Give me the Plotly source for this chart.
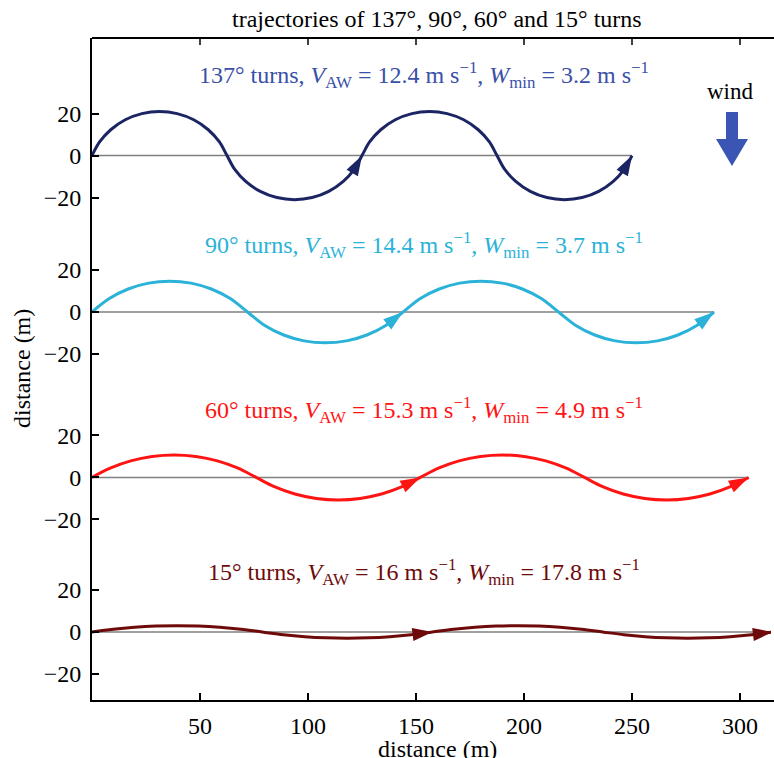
import plotly.graph_objects as go

# ---------------- data ----------------
x_137 = [0, 3.6, 8.67, 15.41, 23.09, 31.25, 39.41, 47.09, 53.83, 58.9, 62.5,
         66.1, 71.17, 77.91, 85.59, 93.75, 101.91, 109.59, 116.33, 121.4, 125.0,
         128.6, 133.67, 140.41, 148.09, 156.25, 164.41, 172.09, 178.83, 183.9, 187.5,
         191.1, 196.17, 202.91, 210.59, 218.75, 226.91, 234.59, 241.33, 246.4, 250.0]
y_137 = [0, 6.6, 12.3, 17.05, 20.0, 21.0, 20.0, 17.05, 12.3, 6.6, 0,
         -6.6, -12.3, -17.05, -20.0, -21.0, -20.0, -17.05, -12.3, -6.6, 0,
         6.6, 12.3, 17.05, 20.0, 21.0, 20.0, 17.05, 12.3, 6.6, 0,
         -6.6, -12.3, -17.05, -20.0, -21.0, -20.0, -17.05, -12.3, -6.6, 0]

x_90 = [0, 8.0, 16.75, 26.19, 36, 45.81, 55.25, 64.0, 72,
        80.0, 88.75, 98.19, 108, 117.81, 127.25, 136.0, 144,
        152, 160.75, 170.19, 180, 189.81, 199.25, 208, 216,
        224, 232.75, 242.19, 252, 261.81, 271.25, 280, 288]
y_90 = [0, 6.4, 10.96, 13.76, 14.7, 13.76, 10.96, 6.4, 0,
        -6.4, -10.96, -13.76, -14.7, -13.76, -10.96, -6.4, 0,
        6.4, 10.96, 13.76, 14.7, 13.76, 10.96, 6.4, 0,
        -6.4, -10.96, -13.76, -14.7, -13.76, -10.96, -6.4, 0]

x_60 = [0, 8.4, 17.93, 27.87, 38, 48.13, 58.07, 67.6, 76,
        84.4, 93.93, 103.87, 114, 124.13, 134.07, 143.6, 152,
        160.4, 169.93, 179.87, 190, 200.13, 210.07, 219.6, 228,
        236.4, 245.93, 255.87, 266, 276.13, 286.07, 295.6, 304]
y_60 = [0, 4.4, 7.88, 9.99, 10.7, 9.99, 7.88, 4.4, 0,
        -4.4, -7.88, -9.99, -10.7, -9.99, -7.88, -4.4, 0,
        4.4, 7.88, 9.99, 10.7, 9.99, 7.88, 4.4, 0,
        -4.4, -7.88, -9.99, -10.7, -9.99, -7.88, -4.4, 0]

x_15 = [0, 9.85, 19.7, 29.55, 39.4, 49.25, 59.1, 68.95, 78.8,
        88.65, 98.5, 108.35, 118.2, 128.05, 137.9, 147.75, 157.6,
        167.45, 177.3, 187.15, 197, 206.85, 216.7, 226.55, 236.4,
        246.25, 256.1, 265.95, 275.8, 285.65, 295.5, 305.35, 315.2]
y_15 = [0, 1.31, 2.25, 2.81, 3.0, 2.81, 2.25, 1.31, 0,
        -1.31, -2.25, -2.81, -3.0, -2.81, -2.25, -1.31, 0,
        1.31, 2.25, 2.81, 3.0, 2.81, 2.25, 1.31, 0,
        -1.31, -2.25, -2.81, -3.0, -2.81, -2.25, -1.31, 0]

# indices (within each series) where a direction arrow is drawn
arrows_137 = [20, 40]
arrows_90 = [16, 32]
arrows_60 = [16, 32]
arrows_15 = [16, 32]

labels = [
    "137° turns, <i>V</i><sub>AW</sub> = 12.4 m s<sup>−1</sup>, <i>W</i><sub>min</sub> = 3.2 m s<sup>−1</sup>",
    "90° turns, <i>V</i><sub>AW</sub> = 14.4 m s<sup>−1</sup>, <i>W</i><sub>min</sub> = 3.7 m s<sup>−1</sup>",
    "60° turns, <i>V</i><sub>AW</sub> = 15.3 m s<sup>−1</sup>, <i>W</i><sub>min</sub> = 4.9 m s<sup>−1</sup>",
    "15° turns, <i>V</i><sub>AW</sub> = 16 m s<sup>−1</sup>, <i>W</i><sub>min</sub> = 17.8 m s<sup>−1</sup>",
]
panel_ticks = [20, 0, -20]
panel_ticktext = ["20", "0", "−20"]
x_ticks = [50, 100, 150, 200, 250, 300]

# ---------------- layout / styling ----------------
FIG_W, FIG_H = 774, 758
L, T, H = 92, 38, 662            # plot area in pixels
PX_PER_M = 2.16
W = FIG_W - L
offsets = [226.9, 152.4, 73.6, 0.0]          # vertical stacking of the four panels
label_px_y = [75, 245, 410, 572]
line_colors = ["#1b2563", "#2bb2d8", "#ff1414", "#6e0a0a"]
text_colors = ["#3a4fa8", "#2bb2d8", "#ff1414", "#6e0a0a"]
FONT = "Liberation Serif, Times New Roman, serif"


def px2paper(px, py):
    return (px - L) / W, (T + H - py) / H


series = [(x_137, y_137, arrows_137), (x_90, y_90, arrows_90),
          (x_60, y_60, arrows_60), (x_15, y_15, arrows_15)]

fig = go.Figure()
for (xs, ys, arr), off in zip(series, offsets):
    fig.add_trace(go.Scatter(x=[xs[0], xs[-1]], y=[off, off], mode="lines",
                             line=dict(color="#808080", width=1.5),
                             hoverinfo="skip", showlegend=False))
for (xs, ys, arr), off, col in zip(series, offsets, line_colors):
    sizes = [21 if i in arr else 0 for i in range(len(xs))]
    fig.add_trace(go.Scatter(
        x=xs, y=[v + off for v in ys], mode="lines+markers",
        line=dict(color=col, width=3, shape="spline", smoothing=1.0),
        marker=dict(symbol="arrow", angleref="previous", size=sizes, color=col,
                    opacity=1, line=dict(width=0)),
        cliponaxis=False, showlegend=False, hoverinfo="skip"))

tickvals, ticktext = [], []
for off in offsets:
    for t, tt in zip(panel_ticks, panel_ticktext):
        tickvals.append(t + off)
        ticktext.append(tt)

for txt, py, col in zip(labels, label_px_y, text_colors):
    px_, py_ = px2paper(424, py)
    fig.add_annotation(x=px_, y=py_, xref="paper", yref="paper", text=txt, showarrow=False,
                       font=dict(family=FONT, size=24, color=col),
                       xanchor="center", yanchor="middle")

# title
tx, ty = px2paper(437, 19)
fig.add_annotation(x=tx, y=ty, xref="paper", yref="paper",
                   text="trajectories of 137°, 90°, 60° and 15° turns", showarrow=False,
                   font=dict(family=FONT, size=24, color="black"),
                   xanchor="center", yanchor="middle")
# wind label
wx, wy = px2paper(730, 91)
fig.add_annotation(x=wx, y=wy, xref="paper", yref="paper", text="wind", showarrow=False,
                   font=dict(family=FONT, size=23, color="black"),
                   xanchor="center", yanchor="middle")
# axis titles
ax_x, ax_y = px2paper(437, 749)
fig.add_annotation(x=ax_x, y=ax_y, xref="paper", yref="paper", text="distance (m)",
                   showarrow=False, font=dict(family=FONT, size=24, color="black"),
                   xanchor="center", yanchor="middle")
ay_x, ay_y = px2paper(22, 369)
fig.add_annotation(x=ay_x, y=ay_y, xref="paper", yref="paper", text="distance (m)",
                   showarrow=False, textangle=-90,
                   font=dict(family=FONT, size=24, color="black"),
                   xanchor="center", yanchor="middle")

# wind arrow
pts = [(726, 112), (738, 112), (738, 139), (748, 139), (732, 166), (716, 139), (726, 139)]
pp = [px2paper(a, b) for a, b in pts]
path = "M " + " L ".join(f"{a:.4f},{b:.4f}" for a, b in pp) + " Z"
fig.add_shape(type="path", path=path, xref="paper", yref="paper",
              fillcolor="#3b55b5", line=dict(width=0))

# white strip over the right edge of the plot area (frame is open on the right)
fig.add_shape(type="rect", xref="paper", yref="paper", layer="above",
              x0=1 - 3 / W, x1=1.01, y0=2 / H, y1=1 - 2 / H,
              fillcolor="white", line=dict(width=0))

# top frame line and top tick marks
fig.add_shape(type="line", xref="paper", yref="paper", x0=0, x1=1.2, y0=1, y1=1,
              line=dict(color="black", width=2))
for xt in x_ticks:
    fig.add_shape(type="line", xref="x", yref="paper", x0=xt, x1=xt,
                  y0=1, y1=1 - 7 / H, line=dict(color="black", width=1.5))

fig.update_layout(
    width=FIG_W, height=FIG_H,
    margin=dict(l=L, r=0, t=T, b=FIG_H - T - H, autoexpand=False),
    plot_bgcolor="white", paper_bgcolor="white",
    font=dict(family=FONT, size=24, color="black"),
    xaxis=dict(range=[0, W / PX_PER_M], tickvals=x_ticks, ticks="inside", ticklen=7,
               tickwidth=1.5, tickcolor="black", showline=True, linecolor="black",
               linewidth=2, mirror=False, showgrid=False, zeroline=False,
               automargin=False, ticklabelstandoff=3,
               tickfont=dict(family=FONT, size=24)),
    yaxis=dict(range=[-32.4, 282.9], tickvals=tickvals, ticktext=ticktext,
               ticks="inside", ticklen=7, tickwidth=1.5, tickcolor="black",
               showline=True, linecolor="black", linewidth=2, mirror=False,
               showgrid=False, zeroline=False, automargin=False,
               ticklabelstandoff=4, tickfont=dict(family=FONT, size=24)),
)

fig.write_html("out.html", config={"displayModeBar": False},
               post_script="document.body.style.margin='0';document.body.style.padding='0';"
                           "document.body.style.overflow='hidden';")
